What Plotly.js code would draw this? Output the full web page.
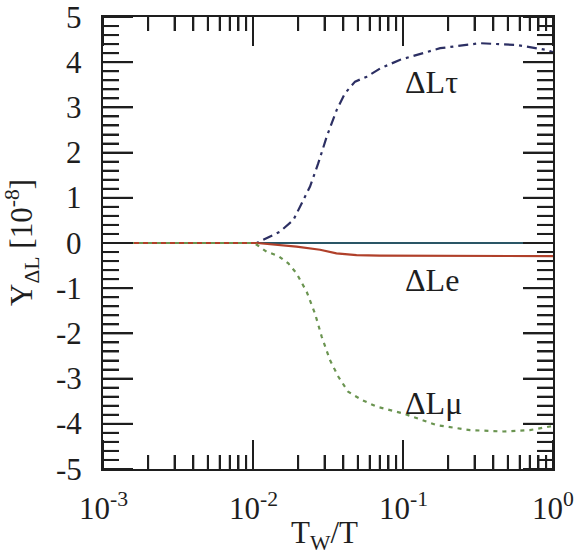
<!DOCTYPE html>
<html>
<head>
<meta charset="utf-8">
<script src="https://cdn.plot.ly/plotly-3.0.1.min.js"></script>
<style>html,body{margin:0;padding:0;background:#fff;}#chart{width:575px;height:560px;}</style>
</head>
<body>
<div id="chart"></div>
<script>
// ΔLτ (dash-dot)
const tauX = [0.001, 0.005, 0.0106, 0.0151, 0.0186, 0.024, 0.0272, 0.031, 0.0361, 0.041, 0.0479, 0.0573, 0.0703, 0.095, 0.177, 0.326, 0.575, 0.91, 1.0];
const tauY = [0, 0, 0, 0.25, 0.51, 1.25, 1.76, 2.35, 2.94, 3.31, 3.57, 3.68, 3.86, 4.05, 4.31, 4.42, 4.38, 4.27, 4.22];
// ΔLe (solid)
const eX = [0.001, 0.01, 0.0106, 0.0195, 0.028, 0.036, 0.049, 0.07, 0.2, 0.5, 1.0];
const eY = [0, 0, 0, -0.08, -0.15, -0.23, -0.27, -0.28, -0.29, -0.29, -0.29];
// ΔLμ (dotted)
const muX = [0.001, 0.01, 0.0106, 0.0123, 0.0148, 0.0172, 0.0195, 0.0228, 0.0259, 0.0287, 0.0326, 0.0371, 0.0431, 0.053, 0.0667, 0.1, 0.168, 0.28, 0.467, 0.70, 0.955, 1.0];
const muY = [0, 0, -0.04, -0.19, -0.29, -0.45, -0.67, -1.08, -1.56, -2.07, -2.59, -2.96, -3.29, -3.47, -3.62, -3.77, -4.03, -4.14, -4.17, -4.14, -4.06, -4.05];

const labels = ["ΔLτ", "ΔLe", "ΔLμ"];
const labelX = [0.1, 0.1, 0.1];
const labelY = [3.56, -0.82, -3.54];

const xTickVals = [0.001, 0.01, 0.1, 1];
const xTickText = ["10<sup>-3</sup>", "10<sup>-2</sup>", "10<sup>-1</sup>", "10<sup>0</sup>"];
const yTickVals = [-5, -4, -3, -2, -1, 0, 1, 2, 3, 4, 5];
const yTickText = ["-5", "-4", "-3", "-2", "-1", "0", "1", "2", "3", "4", "5"];

const xTitle = "T<sub>W</sub>/T";
const yTitle = "Y<sub>ΔL</sub> [10<sup>-8</sup>]";

const FONT = "Liberation Serif";
const INK = "#1e1e1e";

const traces = [
  {x: tauX, y: tauY, mode: "lines", line: {color: "#2c2f63", width: 2.2, dash: "10px,5px,3px,5px"}},
  {x: eX, y: eY, mode: "lines", line: {color: "#b0402a", width: 2.2}},
  {x: muX, y: muY, mode: "lines", line: {color: "#6a9450", width: 2.2, dash: "4px,5px"}}
];

const annotations = [];
labels.forEach((t, i) => annotations.push({
  x: Math.log10(labelX[i]), y: labelY[i], xref: "x", yref: "y", text: t, showarrow: false,
  xanchor: "left", yanchor: "middle", font: {family: FONT, size: 32, color: INK}
}));
// tick labels at the axes' own tick positions
xTickVals.forEach((v, i) => annotations.push({
  x: Math.log10(v), xref: "x", y: 0, yref: "paper", text: xTickText[i], showarrow: false,
  xanchor: "center", yanchor: "top", yshift: -16, font: {family: FONT, size: 31, color: INK}
}));
yTickVals.forEach((v, i) => annotations.push({
  x: 0, xref: "paper", y: v, yref: "y", text: yTickText[i], showarrow: false,
  xanchor: "right", yanchor: "middle", xshift: -19, font: {family: FONT, size: 31, color: INK}
}));
// axis titles
annotations.push({
  x: 0.5, xref: "paper", y: 0, yref: "paper", text: xTitle, showarrow: false,
  xanchor: "center", yanchor: "top", xshift: -4, yshift: -44, font: {family: FONT, size: 31, color: INK}
});
annotations.push({
  x: 0, xref: "paper", y: 0.5, yref: "paper", text: yTitle, showarrow: false, textangle: -90,
  xanchor: "right", yanchor: "middle", xshift: -57, font: {family: FONT, size: 31, color: INK}
});

// inside tick marks on all four sides (major + minor), placed through the axes
const xMajor = xTickVals.slice();
const xMinor = [];
for (let d = -3; d < 0; d++) for (let k = 2; k <= 9; k++) xMinor.push(k * Math.pow(10, d));
const yMajor = yTickVals.slice();
const yMinor = [];
for (let i = -25; i <= 25; i++) if (i % 5 !== 0) yMinor.push(i / 5);

const shapes = [];
const tickLine = {color: INK, width: 2};
function xTick(v, len) {
  shapes.push({type: "line", xref: "x", x0: v, x1: v, yref: "paper", ysizemode: "pixel", yanchor: 0, y0: 0, y1: len, line: tickLine, layer: "above"});
  shapes.push({type: "line", xref: "x", x0: v, x1: v, yref: "paper", ysizemode: "pixel", yanchor: 1, y0: 0, y1: -len, line: tickLine, layer: "above"});
}
function yTick(v, len) {
  shapes.push({type: "line", yref: "y", y0: v, y1: v, xref: "paper", xsizemode: "pixel", xanchor: 0, x0: 0, x1: len, line: tickLine, layer: "above"});
  shapes.push({type: "line", yref: "y", y0: v, y1: v, xref: "paper", xsizemode: "pixel", xanchor: 1, x0: 0, x1: -len, line: tickLine, layer: "above"});
}
xMajor.forEach(v => xTick(v, 29));
xMinor.forEach(v => xTick(v, 14));
yMajor.forEach(v => yTick(v, 30));
yMinor.forEach(v => yTick(v, 16));

const layout = {
  width: 575, height: 560,
  margin: {l: 103, r: 22, t: 17, b: 91},
  paper_bgcolor: "#fff", plot_bgcolor: "#fff",
  showlegend: false,
  font: {family: FONT, size: 30, color: INK},
  xaxis: {
    type: "log", range: [-3, 0], dtick: 1, automargin: false,
    ticks: "inside", ticklen: 29, tickwidth: 2, tickcolor: INK,
    minor: {dtick: "D1", ticks: "inside", ticklen: 14, tickwidth: 2, tickcolor: INK},
    showline: true, linewidth: 2, linecolor: INK, mirror: "allticks",
    showgrid: false, zeroline: false, showticklabels: false
  },
  yaxis: {
    range: [-5, 5], dtick: 1, tick0: 0, automargin: false,
    ticks: "inside", ticklen: 30, tickwidth: 2, tickcolor: INK,
    minor: {dtick: 0.2, tick0: 0, ticks: "inside", ticklen: 16, tickwidth: 2, tickcolor: INK},
    showline: true, linewidth: 2, linecolor: INK, mirror: "allticks",
    showgrid: false, zeroline: true, zerolinecolor: "#2a5666", zerolinewidth: 1.5,
    showticklabels: false
  },
  shapes: shapes,
  annotations: annotations
};

Plotly.newPlot("chart", traces, layout, {displayModeBar: false});
</script>
</body>
</html>
